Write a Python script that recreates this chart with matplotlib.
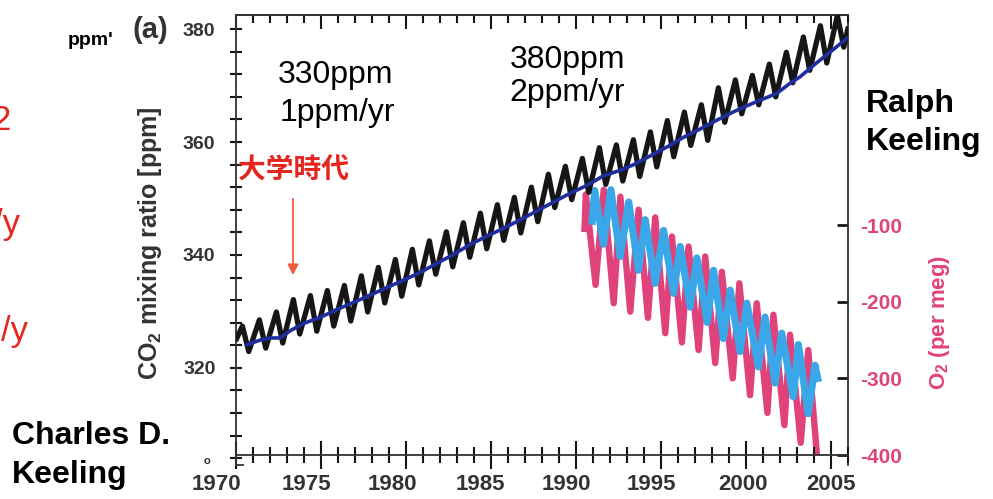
import matplotlib
matplotlib.use("Agg")
import matplotlib.pyplot as plt
from matplotlib.ticker import MultipleLocator, FixedLocator
from matplotlib.transforms import ScaledTranslation

plt.rcParams["font.family"] = ["Liberation Sans", "Noto Sans CJK JP", "DejaVu Sans"]
plt.rcParams["mathtext.fontset"] = "custom"
plt.rcParams["mathtext.rm"] = "Liberation Sans:bold"
plt.rcParams["mathtext.bf"] = "Liberation Sans:bold"
plt.rcParams["axes.unicode_minus"] = False

# ---------------------------------------------------------------------------
# Mauna Loa CO2: seasonal maximum (May) and minimum (Sep/Oct) per year [ppm]
# ---------------------------------------------------------------------------
co2_years = list(range(1970, 2006))
co2_peak = [327.4, 328.5, 329.9, 332.1, 332.8, 333.7, 334.6, 336.3, 337.8, 339.2,
            341.0, 342.5, 344.1, 345.7, 347.4, 348.9, 350.2, 352.0, 354.3, 355.7,
            357.1, 359.0, 359.5, 360.4, 361.8, 363.8, 365.3, 366.6, 369.6, 371.0,
            371.8, 373.8, 375.9, 378.6, 380.6, 382.4]
co2_trough = [322.9, 323.5, 324.4, 326.0, 326.5, 327.4, 328.3, 329.9, 331.5, 332.7,
              334.7, 336.6, 337.9, 339.6, 341.1, 342.6, 343.9, 345.9, 348.4, 349.8,
              351.1, 352.5, 353.1, 353.9, 355.6, 357.4, 359.4, 360.3, 363.5, 365.0,
              366.6, 368.0, 370.5, 372.7, 374.0, 376.8]
co2_first = (1970.04, 325.2)
co2_last = (2005.99, 380.0)
PEAK_MONTH = 5.0
TROUGH_MONTH = 9.5

# Baring Head CO2 (dark blue)
bh_years = [1970.65, 1971.4, 1972.0, 1972.6, 1973.2, 1974.0, 1975.0, 1975.9, 1977.0,
            1977.9, 1979.0, 1979.9, 1980.9, 1981.8, 1982.8, 1983.8, 1984.8, 1985.8,
            1986.7, 1987.7, 1988.7, 1989.7, 1990.7, 1991.6, 1992.6, 1993.4, 1994.4,
            1995.4, 1996.3, 1997.3, 1998.3, 1999.3, 2000.5, 2001.8, 2002.5, 2003.2,
            2004.1, 2005.1, 2005.95]
bh_co2 = [324.1, 324.9, 325.3, 325.3, 326.6, 327.9, 329.0, 330.3, 331.7, 332.9,
          334.4, 335.6, 337.0, 338.5, 340.1, 341.9, 343.4, 344.8, 346.2, 347.8,
          349.4, 351.0, 352.4, 354.0, 355.0, 356.0, 357.6, 359.2, 360.8, 362.3,
          363.9, 365.4, 367.0, 368.6, 370.2, 371.6, 373.9, 376.3, 378.4]

# O2/N2 at Alert (pink), per meg
alt_years = [1990.50, 1990.58, 1991.15, 1991.63, 1992.22, 1992.61, 1993.19, 1993.68,
             1994.23, 1994.66, 1995.25, 1995.64, 1996.23, 1996.62, 1997.21, 1997.60,
             1998.19, 1998.58, 1999.22, 1999.61, 2000.24, 2000.63, 2001.26, 2001.61,
             2002.26, 2002.59, 2003.22, 2003.66, 2004.16]
alt_o2 = [-105, -60, -178, -54, -202, -63, -213, -80, -221, -90, -241, -115, -253,
          -128, -263, -141, -280, -161, -300, -176, -322, -202, -345, -217, -361,
          -243, -384, -263, -396]

# O2/N2 at Cape Grim (light blue), per meg
cgo_years = [1990.95, 1991.10, 1991.62, 1992.05, 1992.60, 1993.10, 1993.68, 1994.07,
             1994.66, 1995.15, 1995.74, 1996.13, 1996.72, 1997.11, 1997.72, 1998.09,
             1998.67, 1999.07, 1999.65, 2000.05, 2000.73, 2001.12, 2001.71, 2002.10,
             2002.78, 2003.08, 2003.66, 2004.06, 2004.22]
cgo_o2 = [-95, -55, -125, -54, -141, -70, -159, -93, -176, -107, -189, -128, -207,
          -143, -227, -159, -248, -185, -265, -202, -285, -220, -306, -241, -324,
          -256, -346, -283, -300]

x_ticks = [1970, 1975, 1980, 1985, 1990, 1995, 2000, 2005]
co2_ticks = [320, 340, 360, 380]
o2_ticks = [-100, -200, -300, -400]

BLACK = "#161616"
NAVY = "#1f2d9e"
PINK = "#e0427c"
SKY = "#3aa7e8"
RED = "#e6261e"
GREY = "#333333"

W, H = 993, 499


def fx(x):
    return x / W


def fy(y):
    return 1 - y / H


fig = plt.figure(figsize=(W / 100, H / 100), dpi=100)
ax = fig.add_axes([fx(236), fy(465), fx(848) - fx(236), fy(15) - fy(465)])
ax2 = ax.twinx()
ax.set_zorder(ax2.get_zorder() + 1)
ax.patch.set_visible(False)

# CO2 sawtooth built from the yearly extremes
t = [co2_first[0]]
v = [co2_first[1]]
for yr, pk, tr in zip(co2_years, co2_peak, co2_trough):
    t += [yr + (PEAK_MONTH - 0.5) / 12, yr + (TROUGH_MONTH - 0.5) / 12]
    v += [pk, tr]
t.append(co2_last[0])
v.append(co2_last[1])
ax.plot(t, v, color=BLACK, lw=3.8, solid_joinstyle="round", zorder=3)
ax.plot(bh_years, bh_co2, color=NAVY, lw=2.6, solid_joinstyle="round", zorder=4)

ax2.plot(alt_years, alt_o2, color=PINK, lw=4.6, solid_joinstyle="round")
ax2.plot(cgo_years, cgo_o2, color=SKY, lw=5.2, solid_joinstyle="round")

ax.set_xlim(1970, 2006)
ax.set_ylim(302.8, 382.5)
ax2.set_ylim(-413, 174)

# spines
for s in ax.spines.values():
    s.set_color(GREY)
    s.set_linewidth(1.3)
ax.spines["right"].set_visible(False)
ax.spines["bottom"].set_position(("outward", -7.2))
for side in ("left", "top", "bottom"):
    ax2.spines[side].set_visible(False)
ax2.spines["right"].set_color(GREY)
ax2.spines["right"].set_linewidth(1.3)
ax.plot([0, 0.012], [0, 0], transform=ax.transAxes, color=GREY, lw=1.3, clip_on=False)

# x axis
ax.xaxis.set_major_locator(FixedLocator(x_ticks))
ax.xaxis.set_minor_locator(MultipleLocator(1))
ax.set_xticklabels([str(x) for x in x_ticks])
ax.tick_params(axis="x", which="major", direction="inout", length=20, width=1.5,
               color=BLACK, pad=3.6, labelsize=16, labelcolor=GREY)
ax.tick_params(axis="x", which="minor", direction="inout", length=11, width=1.5,
               color=BLACK)
for lab in ax.get_xticklabels():
    lab.set_fontweight("bold")
label_shift = [-20, -15, -14, -11, -10, -10, -3, 0]
for lab, dx in zip(ax.get_xticklabels(), label_shift):
    lab.set_transform(lab.get_transform() + ScaledTranslation(dx / 100, 0, fig.dpi_scale_trans))

top = ax.secondary_xaxis("top")
top.xaxis.set_major_locator(FixedLocator(x_ticks))
top.xaxis.set_minor_locator(MultipleLocator(1))
top.tick_params(which="major", direction="in", length=10, width=1.5, color=BLACK, labeltop=False)
top.tick_params(which="minor", direction="in", length=6, width=1.5, color=BLACK)
top.spines["top"].set_color(GREY)
top.spines["top"].set_linewidth(1.3)

# left CO2 axis
ax.yaxis.set_major_locator(FixedLocator(co2_ticks))
ax.yaxis.set_minor_locator(MultipleLocator(4))
ax.tick_params(axis="y", which="both", direction="inout", length=8, width=1.5,
               color=BLACK, pad=10.8, labelsize=14, labelcolor=GREY)
for lab in ax.get_yticklabels():
    lab.set_fontweight("bold")

# right O2 axis
ax2.yaxis.set_major_locator(FixedLocator(o2_ticks))
ax2.tick_params(axis="y", direction="in", length=8, width=2, color=BLACK,
                pad=9, labelsize=15, labelcolor=PINK)
for lab in ax2.get_yticklabels():
    lab.set_fontweight("bold")

fig.text(fx(150), fy(243), "CO$_\\mathbf{2}$ mixing ratio [ppm]", rotation=90,
         ha="center", va="center", fontsize=18, fontweight="bold", color=GREY)
fig.text(fx(940), fy(322), "O$_\\mathbf{2}$ (per meg)", rotation=90,
         ha="center", va="center", fontsize=16, fontweight="bold", color=PINK)
fig.text(fx(207), fy(461), "o", ha="center", va="center", fontsize=8,
         fontweight="bold", color=GREY)

# annotations inside the plot
fig.text(fx(132), fy(38), "(a)", fontsize=21, fontweight="bold", color=GREY, va="baseline")
fig.text(fx(278), fy(83), "330ppm", fontsize=23, color="black", va="baseline")
fig.text(fx(280), fy(121), "1ppm/yr", fontsize=23, color="black", va="baseline")
fig.text(fx(510), fy(68), "380ppm", fontsize=23, color="black", va="baseline")
fig.text(fx(509), fy(101), "2ppm/yr", fontsize=23, color="black", va="baseline")
fig.text(fx(238), fy(179), "大学時代", fontsize=20, fontweight="bold", color=RED,
         va="baseline", family=["Noto Sans CJK JP", "DejaVu Sans"])
ax.annotate("", xy=(fx(293), fy(278)), xytext=(fx(293), fy(196)),
            xycoords="figure fraction", textcoords="figure fraction",
            arrowprops=dict(arrowstyle="-|>", color="#ef5a3c", lw=1.3, mutation_scale=16))

# side captions
fig.text(fx(866), fy(112), "Ralph", fontsize=23, fontweight="bold", color="black", va="baseline")
fig.text(fx(866), fy(150), "Keeling", fontsize=23, fontweight="bold", color="black", va="baseline")
fig.text(fx(12), fy(444), "Charles D.", fontsize=23, fontweight="bold", color="black", va="baseline")
fig.text(fx(12), fy(483), "Keeling", fontsize=23, fontweight="bold", color="black", va="baseline")
fig.text(fx(68), fy(45), "ppm'", fontsize=14, fontweight="bold", color="black", va="baseline")
fig.text(fx(11), fy(130), "2", fontsize=25, color=RED, ha="right", va="baseline")
fig.text(fx(20), fy(234), "/y", fontsize=25, color=RED, ha="right", va="baseline")
fig.text(fx(28), fy(341), "/y", fontsize=25, color=RED, ha="right", va="baseline")

fig.savefig("out.png", dpi=100, facecolor="white")
